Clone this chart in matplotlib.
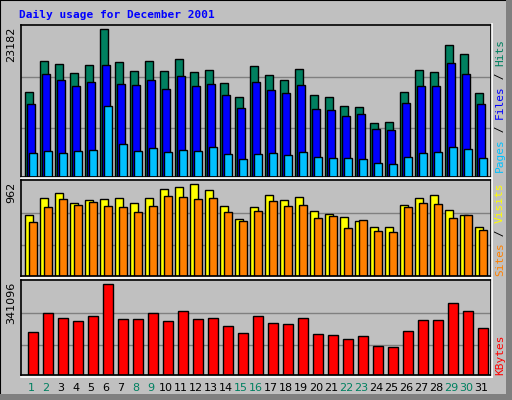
import matplotlib
matplotlib.use("Agg")
import matplotlib.pyplot as plt
from matplotlib.patches import Rectangle

days = list(range(1, 32))
hits = [13270,18148,17676,16260,17518,23182,17990,16574,18148,16574,18462,16417,16732,14686,12483,
        17361,15945,15158,16889,12798,12483,11067,10910,8392,8549,13270,16732,16417,20718,19249,13112]
files = [11382,16102,15158,14214,14843,17518,14529,14371,15158,13742,15787,14214,14529,12798,10752,
         14843,13585,13112,14371,10595,10437,9493,9808,7448,7290,11539,14214,14214,17833,16102,11382]
pages = [3671,3986,3671,3986,4143,11067,5087,3986,4458,3829,4143,3986,4615,3514,2727,
         3514,3671,3357,3829,3042,2885,2885,2727,2098,1940,3042,3671,3829,4615,4301,2885]
visits = [638,816,868,763,795,805,816,763,816,910,931,962,899,732,596,
          722,847,795,826,680,648,617,575,512,512,742,816,847,690,638,512]
sites = [565,722,805,742,774,732,722,669,732,837,826,805,816,669,575,
         680,784,732,742,606,627,502,586,471,460,722,763,753,606,638,481]
kbytes = [160592,231551,212878,201674,220347,341096,209143,209143,231551,201674,239021,209143,212878,183000,156857,
          220347,194204,190469,212878,153122,149388,134449,145653,108306,104572,164327,205409,205409,268898,239021,175531]
weekend = [1,2,8,9,15,16,22,23,29,30]

W, H = 512, 400
fig = plt.figure(figsize=(W/100, H/100), dpi=100, facecolor="#C0C0C0")
bg = "#C0C0C0"
fig.patches.append(Rectangle((0, 0), 1, 1, transform=fig.transFigure, fill=False, ec="black", lw=1.5))
fig.patches.append(Rectangle((1-6/W, 0), 6/W, 1, transform=fig.transFigure, fc="#808080", ec="none"))
fig.patches.append(Rectangle((0, 0), 1, 6/H, transform=fig.transFigure, fc="#808080", ec="none"))

left, right = 20.7, 490.7
x0 = 0.31
x1 = x0 + (right-left)/15.0

def mkax(top, bottom, vmax, maxtop):
    ax = fig.add_axes([left/W, 1-bottom/H, (right-left)/W, (bottom-top)/H])
    ax.set_facecolor(bg)
    ax.set_xlim(x0, x1)
    ax.set_ylim(0, vmax*(bottom-top)/(bottom-maxtop))
    ax.set_xticks([]); ax.set_yticks([])
    for s in ax.spines.values():
        s.set_color("black"); s.set_linewidth(1.2)
    for f in (0.32, 0.655):
        ax.axhline(ax.get_ylim()[1]*f, color="#808080", lw=1, zorder=0)
    return ax

ax1 = mkax(25, 176.7, max(hits), 29.3)
ax2 = mkax(180, 276.3, max(visits), 184.3)
ax3 = mkax(280.3, 375.3, max(kbytes), 284)

bw = 7.5/15
kw = dict(edgecolor="black", linewidth=1, align="edge")
ax1.bar([d-0.38 for d in days], hits, bw, color="#008060", **kw)
ax1.bar([d-0.38+2/15 for d in days], files, bw, color="#0000FF", **kw)
ax1.bar([d-0.38+4/15 for d in days], pages, bw, color="#00C0FF", **kw)
ax2.bar([d-0.38 for d in days], visits, 8/15, color="#FFFF00", **kw)
ax2.bar([d-0.38+4/15 for d in days], sites, 7.5/15, color="#FF8000", **kw)
ax3.bar([d-0.38+3/15 for d in days], kbytes, 10/15, color="#FF0000", **kw)

# white separators
for y in (178.3, 278.3):
    fig.add_artist(plt.Line2D([left/W, right/W], [1-y/H, 1-y/H], color="white", lw=1.2))
fig.add_artist(plt.Line2D([right/W+0.002]*2, [1-377/H, 1-24/H], color="white", lw=1.2))
fig.add_artist(plt.Line2D([left/W, right/W+0.002], [1-377/H]*2, color="white", lw=1.2))

mono = "DejaVu Sans Mono"
fig.text(19/W, 1-15/H, "Daily usage for December 2001", color="#0000FF", fontsize=8,
         fontweight="bold", family=mono, va="center", ha="left")

for val, ytop in ((max(hits), 27), (max(visits), 182), (max(kbytes), 282)):
    fig.text(11/W, 1-ytop/H, str(val), rotation=90, fontsize=8, family="DejaVu Sans",
             va="top", ha="center", color="black")

for d in days:
    xf = (left + (d - x0)*15)/W
    fig.text(xf, 1-388/H, str(d), fontsize=8, ha="center", va="center",
             color="#008060" if d in weekend else "black")

def vlabel(segs, ybottom, x=500):
    step = 6.6
    y = ybottom
    for txt, col in segs:
        fig.text(x/W, 1-y/H, txt, rotation=90, fontsize=8, family=mono, color=col,
                 ha="center", va="bottom")
        y -= step*len(txt)

vlabel([("Pages", "#00C0FF"), (" / ", "black"), ("Files", "#0000FF"), (" / ", "black"), ("Hits", "#008060")], 172)
vlabel([("Sites", "#FF8000"), (" / ", "black"), ("Visits", "#FFFF00")], 276)
vlabel([("KBytes", "#FF0000")], 375)

fig.savefig("out.png", dpi=100, facecolor=fig.get_facecolor())
